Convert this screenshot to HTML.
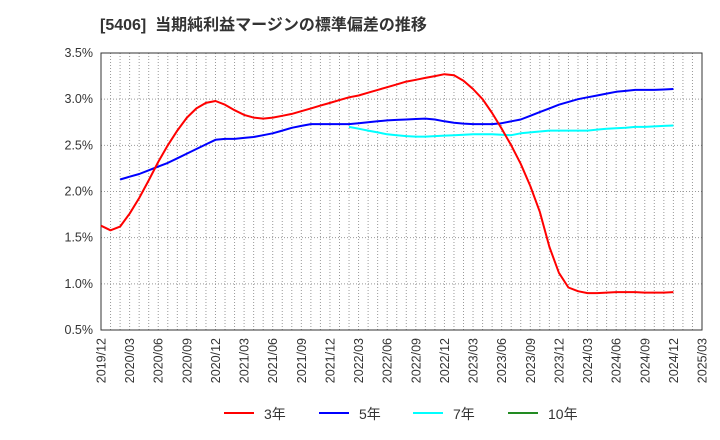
<!DOCTYPE html>
<html><head><meta charset="utf-8">
<style>
body{margin:0;background:#fff;}
svg{display:block;font-family:"Liberation Sans","Noto Sans CJK JP",sans-serif;}
</style></head>
<body>
<svg id="chart" width="720" height="440">
<text x="100" y="30" font-size="16" font-weight="bold" fill="#333" xml:space="preserve">[5406]  当期純利益マージンの標準偏差の推移</text>
<g id="grid"></g>
<g id="axes"></g>
<g id="series"></g>
<g id="legend"></g>
</svg>
<script>
const xTicks=["2019/12","2020/03","2020/06","2020/09","2020/12","2021/03","2021/06","2021/09","2021/12","2022/03","2022/06","2022/09","2022/12","2023/03","2023/06","2023/09","2023/12","2024/03","2024/06","2024/09","2024/12","2025/03"];
const yTicks=[0.5,1.0,1.5,2.0,2.5,3.0,3.5];
const s3=[1.63,1.58,1.62,1.76,1.93,2.12,2.32,2.50,2.66,2.80,2.90,2.96,2.98,2.94,2.88,2.83,2.80,2.79,2.80,2.82,2.84,2.87,2.90,2.93,2.96,2.99,3.02,3.04,3.07,3.10,3.13,3.16,3.19,3.21,3.23,3.25,3.27,3.26,3.20,3.11,3.00,2.85,2.68,2.50,2.30,2.06,1.78,1.40,1.12,0.96,0.92,0.90,0.90,0.905,0.91,0.91,0.91,0.905,0.905,0.905,0.91];
const s5=[null,null,2.13,2.16,2.19,2.23,2.27,2.31,2.36,2.41,2.46,2.51,2.56,2.57,2.57,2.58,2.59,2.61,2.63,2.66,2.69,2.71,2.73,2.73,2.73,2.73,2.73,2.74,2.75,2.76,2.77,2.775,2.78,2.785,2.79,2.78,2.76,2.745,2.735,2.73,2.73,2.73,2.74,2.76,2.78,2.82,2.86,2.90,2.94,2.97,3.00,3.02,3.04,3.06,3.08,3.09,3.10,3.10,3.10,3.105,3.11];
const s7=[null,null,null,null,null,null,null,null,null,null,null,null,null,null,null,null,null,null,null,null,null,null,null,null,null,null,2.70,2.68,2.66,2.64,2.62,2.61,2.60,2.595,2.595,2.60,2.605,2.61,2.615,2.62,2.62,2.62,2.615,2.61,2.63,2.64,2.65,2.66,2.66,2.66,2.66,2.66,2.67,2.68,2.685,2.69,2.70,2.70,2.705,2.71,2.715];
const s10=[];
const L=101,R=702,T=53,B=330,NM=63;
const NS="http://www.w3.org/2000/svg";
const xs=i=>L+i*(R-L)/NM;
const ys=v=>B-(v-0.5)*(B-T)/3.0;
function mk(tag,attrs,parent){const e=document.createElementNS(NS,tag);for(const k in attrs)e.setAttribute(k,attrs[k]);parent.appendChild(e);return e;}
const grid=document.getElementById('grid'),axes=document.getElementById('axes'),ser=document.getElementById('series'),leg=document.getElementById('legend');
for(let i=1;i<NM;i++){const l=mk('line',{x1:xs(i),x2:xs(i),y1:T,y2:B,stroke:'#999','stroke-dasharray':'1,2','stroke-width':1},grid);

}
yTicks.forEach(v=>{const y=ys(v);
const l=mk('line',{x1:L,x2:R,y1:y,y2:y,stroke:'#999','stroke-dasharray':'1,2','stroke-width':1},grid);


const t=mk('text',{x:L-8,y:y+4,'font-size':12.5,fill:'#333','text-anchor':'end'},axes);t.textContent=v.toFixed(1)+'%';

});
const fr=mk('rect',{x:L,y:T,width:R-L,height:B-T,fill:'none',stroke:'#333','stroke-width':1},axes);


xTicks.forEach((lab,k)=>{const x=xs(k*3);
const t=mk('text',{x:0,y:0,'font-size':12.5,fill:'#333','text-anchor':'end',transform:`translate(${x+4.5},${B+8}) rotate(-90)`},axes);t.textContent=lab;

});
function draw(arr,color,name){let d='';let pen=false;arr.forEach((v,i)=>{if(v==null){pen=false;return;}d+=(pen?'L':'M')+xs(i).toFixed(1)+','+ys(v).toFixed(1);pen=true;});
if(!d)return;const p=mk('path',{d:d,fill:'none',stroke:color,'stroke-width':2,'stroke-linejoin':'round'},ser);

}
draw(s7,'#00ffff','line-7yr');draw(s5,'#0000ff','line-5yr');draw(s3,'#ff0000','line-3yr');draw(s10,'#228b22','line-10yr');
const items=[['3年','#ff0000',224],['5年','#0000ff',319],['7年','#00ffff',413],['10年','#228b22',508]];
items.forEach(([lab,c,x])=>{const g=mk('g',{},leg);


mk('line',{x1:x,x2:x+30,y1:413,y2:413,stroke:c,'stroke-width':2},g);
const t=mk('text',{x:x+40,y:419,'font-size':14,fill:'#333'},g);t.textContent=lab;});
</script>
</body></html>
